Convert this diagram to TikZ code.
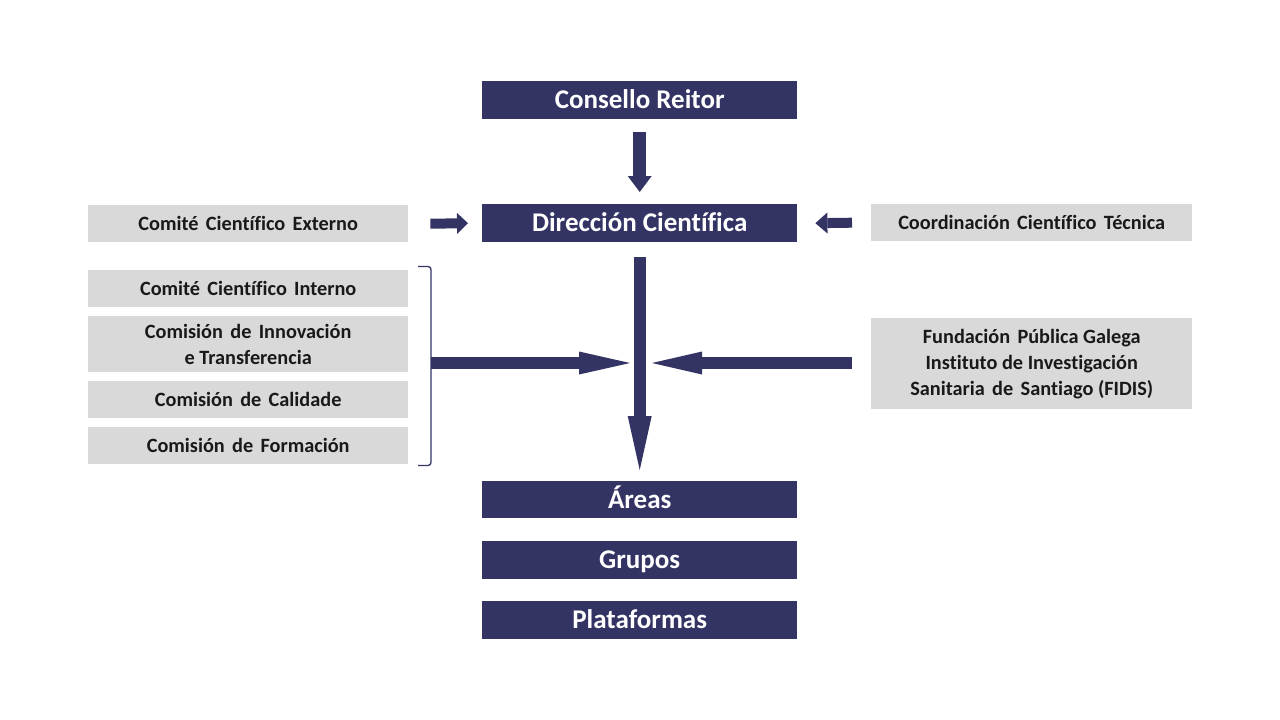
\documentclass[tikz,border=0pt]{standalone}
\usepackage{fontspec}
\setmainfont[Ligatures=CommonOff]{Carlito}
\usetikzlibrary{arrows.meta,calc}
\definecolor{navy}{RGB}{51,51,100}
\definecolor{lgrey}{RGB}{217,217,217}
\newcommand{\wsp}{\hspace{0.36em}}
\tikzset{
  darkbox/.style={fill=navy, text=white, minimum width=315pt, minimum height=38pt, inner sep=0pt,
    font=\fontsize{27}{30}\selectfont\bfseries, anchor=north west, text height=24pt, text depth=6.5pt},
  greybox/.style={fill=lgrey, text=black!90, minimum width=320pt, minimum height=37pt, inner sep=0pt,
    align=center, font=\fontsize{20.3}{26}\selectfont\bfseries, anchor=north west},
  oneline/.style={text height=18pt, text depth=5pt},
  barrow/.style={draw=navy, line width=#1},
}
\begin{document}
\begin{tikzpicture}[x=1pt,y=-1pt]
\useasboundingbox (0,0) rectangle (1280,720);
% dark boxes
\node[darkbox] (cr) at (482,81) {Consello Reitor};
\node[darkbox] (dc) at (482,204) {Dirección Científica};
\node[darkbox, minimum height=37pt] (ar) at (482,481) {Áreas};
\node[darkbox] (gr) at (482,541) {Grupos};
\node[darkbox] (pl) at (482,601) {Plataformas};
% grey boxes
\node[greybox, oneline] (ext) at (88,205) {Comité\wsp Científico\wsp Externo};
\node[greybox, oneline, minimum width=321pt] (coo) at (871,204) {Coordinación\wsp Científico\wsp Técnica};
\node[greybox, oneline] (cin) at (88,270) {Comité\wsp Científico\wsp Interno};
\node[greybox, minimum height=56pt] (cit) at (88,316) {Comisión\wsp de\wsp Innovación\\e Transferencia};
\node[greybox, oneline] (cca) at (88,381) {Comisión\wsp de\wsp Calidade};
\node[greybox, oneline] (cfo) at (88,427) {Comisión\wsp de\wsp Formación};
\node[greybox, minimum width=321pt, minimum height=91pt] (fid) at (871,318) {Fundación\wsp Pública Galega\\Instituto de Investigación\\Sanitaria\wsp de\wsp Santiago (FIDIS)};
% bracket
\draw[navy, line width=1.3pt, rounded corners=3pt] (418,266.5) -- (431,266.5) -- (431,465.5) -- (418,465.5);
\coordinate (br) at (431,363);
\coordinate (hub) at (639,363);
% arrows
\draw[barrow=13pt, -{Triangle[length=16pt,width=24pt,line width=0pt]}] ([yshift=-13pt]cr.south) -- ([yshift=12pt]dc.north);
\draw[barrow=10pt, -{Triangle[length=11pt,width=21pt,line width=0pt]}] ([xshift=22pt]ext.east) -- ([xshift=-14pt]dc.west);
\draw[barrow=10pt, -{Triangle[length=12pt,width=21pt,line width=0pt]}] ([xshift=-19pt]coo.west) -- ([xshift=18pt]dc.east);
\draw[barrow=12pt, -{Triangle[length=54pt,width=24pt,line width=0pt]}] ([yshift=-15pt]dc.south) -- ([yshift=11pt]ar.north);
\draw[barrow=12pt, -{Triangle[length=51pt,width=23pt,line width=0pt]}] (br) -- ([xshift=-9pt]hub);
\draw[barrow=12pt, -{Triangle[length=50pt,width=23pt,line width=0pt]}] ([xshift=-19pt]fid.west |- hub) -- ([xshift=13pt]hub);
\end{tikzpicture}
\end{document}
